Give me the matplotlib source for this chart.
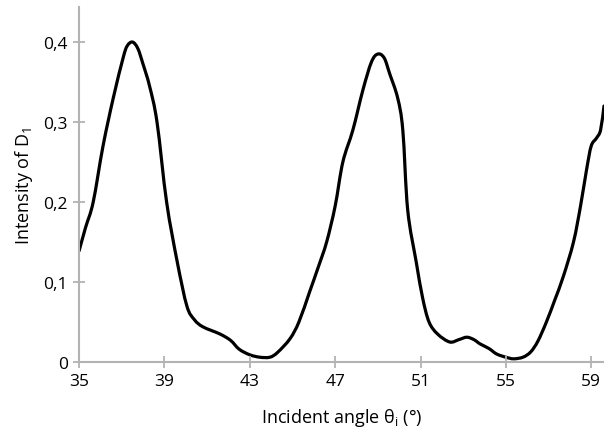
import numpy as np
import matplotlib
matplotlib.use("Agg")
import matplotlib.pyplot as plt
from matplotlib.path import Path
from matplotlib.patches import PathPatch

plt.rcParams['font.family'] = ['Open Sans', 'DejaVu Sans']
plt.rcParams['mathtext.fontset'] = 'custom'
plt.rcParams['mathtext.rm'] = 'Open Sans'

# incident angle (deg) and intensity
angle = [35.0, 35.3, 35.66, 36.12, 36.6, 37.06, 37.25, 37.5, 37.75, 38.0, 38.3,
         38.65, 39.1, 39.6, 40.05, 40.4, 40.8, 41.6, 42.1, 42.5, 43.0, 43.47,
         43.94, 44.3, 44.88, 45.3, 45.8, 46.2, 46.6, 47.0, 47.36, 47.83, 48.3,
         48.7, 49.0, 49.3, 49.56, 49.93, 50.17, 50.4, 50.8, 51.1, 51.4, 51.8,
         52.37, 52.8, 53.17, 53.5, 53.8, 54.2, 54.57, 55.0, 55.36, 55.8, 56.16,
         56.5, 56.9, 57.3, 57.7, 58.17, 58.5, 58.78, 59.0, 59.25, 59.44, 59.6]
intensity = [0.139, 0.168, 0.20, 0.27, 0.33, 0.38, 0.395, 0.40, 0.392, 0.372, 0.345,
             0.30, 0.20, 0.125, 0.07, 0.053, 0.044, 0.035, 0.027, 0.016, 0.009, 0.006,
             0.006, 0.012, 0.029, 0.05, 0.0875, 0.118, 0.15, 0.195, 0.25, 0.29, 0.34,
             0.375, 0.385, 0.38, 0.36, 0.33, 0.29, 0.19, 0.125, 0.08, 0.05, 0.035,
             0.025, 0.028, 0.031, 0.028, 0.0225, 0.017, 0.01, 0.006, 0.004, 0.006, 0.0125,
             0.026, 0.05, 0.078, 0.1075, 0.15, 0.195, 0.24, 0.27, 0.28, 0.29, 0.32]

xticks = [35, 39, 43, 47, 51, 55, 59]
yticks = [0, 0.1, 0.2, 0.3, 0.4]
ylabels = ['0', '0,1', '0,2', '0,3', '0,4']

fig = plt.figure(figsize=(6.04, 4.35), dpi=100)
ax = fig.add_axes([0.131, 0.1655, 0.869, 0.8165])

# smooth curve through the points (Catmull-Rom as cubic Bezier segments)
pts = np.column_stack([angle, intensity])
verts = [pts[0]]
codes = [Path.MOVETO]
for i in range(len(pts) - 1):
    p0 = pts[max(i - 1, 0)]
    p1 = pts[i]
    p2 = pts[i + 1]
    p3 = pts[min(i + 2, len(pts) - 1)]
    verts += [p1 + (p2 - p0) / 6, p2 - (p3 - p1) / 6, p2]
    codes += [Path.CURVE4] * 3
ax.add_patch(PathPatch(Path(verts, codes), facecolor='none', edgecolor='black',
                       linewidth=2.3, capstyle='round', joinstyle='round'))

ax.set_xlim(35, 59.6)
ax.set_ylim(0, 0.444)
ax.set_xticks(xticks)
ax.set_yticks(yticks)
ax.set_yticklabels(ylabels)

for s in ['top', 'right']:
    ax.spines[s].set_visible(False)
for s in ['left', 'bottom']:
    ax.spines[s].set_color('#b3b3b3')
    ax.spines[s].set_linewidth(1.5)
ax.tick_params(direction='inout', length=8, width=1.3, color='#b3b3b3',
               labelsize=12.5, pad=4)

ax.set_xlabel(r'Incident angle θ$_\mathrm{i}$ (°)', fontsize=13, labelpad=12)
ax.set_ylabel(r'Intensity of D$_1$', fontsize=13, labelpad=6)

plt.savefig('out.png', dpi=100)
